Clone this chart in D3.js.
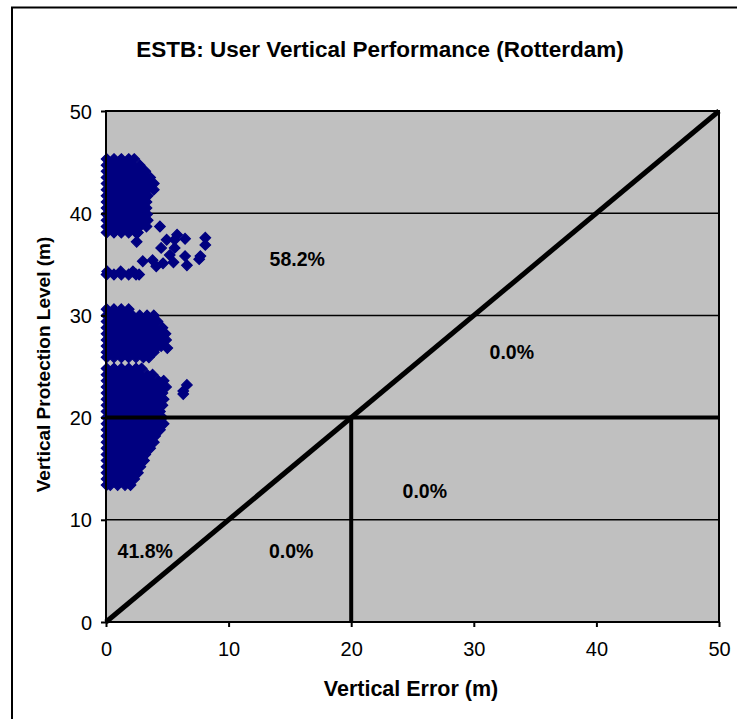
<!DOCTYPE html>
<html>
<head>
<meta charset="utf-8">
<script src="https://cdn.jsdelivr.net/npm/d3@7"></script>
<style>
  body { margin: 0; background: #fff; }
  svg text { font-family: "Liberation Sans", Arial, sans-serif; fill: #000; }
</style>
</head>
<body>
<div id="chart"></div>
<script>
// VE / VPL samples, one row per VPL level: [vpl, ve, ve, ...]
var upperRows = [
  [45.3, 0.05, 0.65, 1.25, 1.85, 2.3],
  [44.7, 0.05, 0.35, 0.95, 1.55, 2.15, 2.75],
  [44.1, 0.05, 0.65, 1.25, 1.85, 2.45, 3.05, 3.2],
  [43.5, 0.05, 0.35, 0.95, 1.55, 2.15, 2.75, 3.35, 3.6],
  [42.9, 0.05, 0.65, 1.25, 1.85, 2.45, 3.05, 3.65, 3.9],
  [42.3, 0.05, 0.35, 0.95, 1.55, 2.15, 2.75, 3.35, 3.9],
  [41.7, 0.05, 0.65, 1.25, 1.85, 2.45, 3.05, 3.4],
  [41.1, 0.05, 0.35, 0.95, 1.55, 2.15, 2.75, 3.3],
  [40.5, 0.05, 0.65, 1.25, 1.85, 2.45, 3.05, 3.3],
  [39.9, 0.05, 0.35, 0.95, 1.55, 2.15, 2.75, 3.35],
  [39.3, 0.05, 0.65, 1.25, 1.85, 2.45, 3.05, 3.4],
  [38.7, 0.05, 0.35, 0.95, 1.55, 2.15, 2.75, 3.3, 4.4],
  [38.1, 0.05, 0.65, 1.25, 1.85, 2.45, 2.6]
];

var scatterPts = [
  [2.5, 37.2], [4.95, 37.4], [5.6, 37.4], [5.8, 37.9], [6.45, 37.5], [8.1, 37.6],
  [8.1, 36.9], [4.5, 36.6], [5.6, 36.6], [5.2, 35.9], [6.45, 35.8], [7.7, 35.8],
  [7.6, 35.5], [3.0, 35.3], [3.8, 35.4], [4.65, 35.1], [5.5, 35.2], [6.6, 34.9],
  [4.1, 34.8], [5.0, 26.8], [6.6, 23.2], [6.3, 22.6], [6.3, 22.3]
];

var midRows = [
  [34.3, 0.1, 1.2, 2.2],
  [34.0, 0.05, 0.65, 1.25, 1.85, 2.45, 2.7]
];

var lowerRows = [
  [30.6, 0.05, 0.65, 1.25, 1.85],
  [30.0, 0.05, 0.35, 0.95, 1.55, 2.15, 2.75, 3.35, 3.9],
  [29.4, 0.05, 0.65, 1.25, 1.85, 2.45, 3.05, 3.65, 4.2],
  [28.8, 0.05, 0.35, 0.95, 1.55, 2.15, 2.75, 3.35, 3.95, 4.6],
  [28.2, 0.05, 0.65, 1.25, 1.85, 2.45, 3.05, 3.65, 4.25, 4.85],
  [27.6, 0.05, 0.35, 0.95, 1.55, 2.15, 2.75, 3.35, 3.95, 4.55, 4.9],
  [27.0, 0.05, 0.65, 1.25, 1.85, 2.45, 3.05, 3.65, 4.25, 4.5],
  [26.4, 0.05, 0.35, 0.95, 1.55, 2.15, 2.75, 3.35, 3.9],
  [25.9, 0.05, 0.65, 1.25, 1.85, 2.45, 3.05, 3.5],
  [24.8, 0.05, 0.65, 1.25, 1.85, 2.45, 2.9],
  [24.2, 0.05, 0.35, 0.95, 1.55, 2.15, 2.75, 3.35, 3.8],
  [23.6, 0.05, 0.65, 1.25, 1.85, 2.45, 3.05, 3.65, 4.25, 4.7],
  [23.0, 0.05, 0.35, 0.95, 1.55, 2.15, 2.75, 3.35, 3.95, 4.55, 4.9],
  [22.4, 0.05, 0.65, 1.25, 1.85, 2.45, 3.05, 3.65, 4.25, 4.6],
  [21.8, 0.05, 0.35, 0.95, 1.55, 2.15, 2.75, 3.35, 3.95, 4.55, 4.7],
  [21.2, 0.05, 0.65, 1.25, 1.85, 2.45, 3.05, 3.65, 4.25, 4.6],
  [20.6, 0.05, 0.35, 0.95, 1.55, 2.15, 2.75, 3.35, 3.95, 4.4],
  [20.0, 0.05, 0.65, 1.25, 1.85, 2.45, 3.05, 3.65, 4.25, 4.6],
  [19.4, 0.05, 0.35, 0.95, 1.55, 2.15, 2.75, 3.35, 3.95, 4.55, 4.7],
  [18.8, 0.05, 0.65, 1.25, 1.85, 2.45, 3.05, 3.65, 4.25, 4.4],
  [18.2, 0.05, 0.35, 0.95, 1.55, 2.15, 2.75, 3.35, 3.95, 4.0],
  [17.6, 0.05, 0.65, 1.25, 1.85, 2.45, 3.05, 3.65, 3.9],
  [17.0, 0.05, 0.35, 0.95, 1.55, 2.15, 2.75, 3.35, 3.6],
  [16.4, 0.05, 0.65, 1.25, 1.85, 2.45, 3.05, 3.2],
  [15.8, 0.05, 0.35, 0.95, 1.55, 2.15, 2.75, 3.1],
  [15.2, 0.05, 0.65, 1.25, 1.85, 2.45, 2.8],
  [14.6, 0.05, 0.35, 0.95, 1.55, 2.15, 2.6],
  [14.0, 0.05, 0.65, 1.25, 1.85, 2.3],
  [13.4, 0.05, 0.35, 0.95, 1.55, 2.0]
];

var tickVals = [0, 10, 20, 30, 40, 50];
var gridVals = [10, 30, 40];
var alarmLimit = 20;

// region percentages [ve, vpl, label]
var regionLabels = [
  [15.6, 34.8, "58.2%"],
  [33.1, 25.7, "0.0%"],
  [26.0, 12.1, "0.0%"],
  [3.2, 6.3, "41.8%"],
  [15.1, 6.3, "0.0%"]
];

var titleText = "ESTB: User Vertical Performance (Rotterdam)";
var xTitle = "Vertical Error (m)";
var yTitle = "Vertical Protection Level (m)";

// flatten the rows into points
var points = [];
upperRows.concat(midRows, lowerRows).forEach(function(row) {
  for (var i = 1; i < row.length; i++) points.push([row[i], row[0]]);
});
points = points.concat(scatterPts);

var width = 737, height = 719;
var margin = {top: 111, right: 18, bottom: 97, left: 106};
var plotW = width - margin.left - margin.right;
var plotH = height - margin.top - margin.bottom;

var svg = d3.select("#chart").append("svg")
  .attr("width", width)
  .attr("height", height);

// outer chart border
svg.append("rect")
  .attr("x", 12).attr("y", 7.5)
  .attr("width", 740).attr("height", 730)
  .attr("fill", "none").attr("stroke", "#000").attr("stroke-width", 2);

var g = svg.append("g")
  .attr("transform", `translate(${margin.left}, ${margin.top})`);

var x = d3.scaleLinear().domain([0, 50]).range([0, plotW]);
var y = d3.scaleLinear().domain([0, 50]).range([plotH, 0]);

g.append("rect")
  .attr("width", plotW).attr("height", plotH)
  .attr("fill", "#c0c0c0");

g.selectAll(".grid")
  .data(gridVals)
  .enter().append("line")
  .attr("class", "grid")
  .attr("x1", 0).attr("x2", plotW)
  .attr("y1", d => y(d)).attr("y2", d => y(d))
  .attr("stroke", "#000").attr("stroke-width", 1.5);

// scatter markers (diamonds)
g.selectAll(".pt")
  .data(points)
  .enter().append("path")
  .attr("class", "pt")
  .attr("d", "M0,-5.3L5.3,0L0,5.3L-5.3,0Z")
  .attr("transform", d => `translate(${x(d[0])},${y(d[1])})`)
  .attr("fill", "#000080")
  .attr("stroke", "#000080")
  .attr("stroke-width", 1.2);

// alarm limit lines and diagonal
g.append("line")
  .attr("x1", x(0)).attr("y1", y(alarmLimit))
  .attr("x2", x(50)).attr("y2", y(alarmLimit))
  .attr("stroke", "#000").attr("stroke-width", 4);

g.append("line")
  .attr("x1", x(alarmLimit)).attr("y1", y(0))
  .attr("x2", x(alarmLimit)).attr("y2", y(alarmLimit))
  .attr("stroke", "#000").attr("stroke-width", 4);

g.append("line")
  .attr("x1", x(0)).attr("y1", y(0))
  .attr("x2", x(50)).attr("y2", y(50))
  .attr("stroke", "#000").attr("stroke-width", 5);

g.append("rect")
  .attr("width", plotW).attr("height", plotH)
  .attr("fill", "none").attr("stroke", "#000").attr("stroke-width", 2);

// axes
var xAxis = g.append("g")
  .attr("transform", `translate(0, ${plotH})`)
  .call(d3.axisBottom(x).tickValues(tickVals).tickSize(5).tickPadding(15));
var yAxis = g.append("g")
  .call(d3.axisLeft(y).tickValues(tickVals).tickSize(5).tickPadding(9));

[xAxis, yAxis].forEach(function(a) {
  a.select(".domain").remove();
  a.selectAll("line").attr("stroke", "#000").attr("stroke-width", 2);
  a.selectAll("text")
    .style("font-family", "Liberation Sans, Arial, sans-serif")
    .style("font-size", "20px")
    .attr("fill", "#000");
});
yAxis.selectAll("text").attr("dy", "0.35em");

// region labels
g.selectAll(".pct")
  .data(regionLabels)
  .enter().append("text")
  .attr("class", "pct")
  .attr("x", d => x(d[0]))
  .attr("y", d => y(d[1]))
  .attr("text-anchor", "middle")
  .style("font-size", "19.5px")
  .style("font-weight", "bold")
  .text(d => d[2]);

// title
svg.append("text")
  .attr("x", 380).attr("y", 57)
  .attr("text-anchor", "middle")
  .style("font-size", "22.5px")
  .style("font-weight", "bold")
  .text(titleText);

svg.append("text")
  .attr("x", 411).attr("y", 696)
  .attr("text-anchor", "middle")
  .style("font-size", "21.5px")
  .style("font-weight", "bold")
  .text(xTitle);

svg.append("text")
  .attr("transform", `translate(50, ${margin.top + plotH / 2 - 2}) rotate(-90)`)
  .attr("text-anchor", "middle")
  .style("font-size", "19px")
  .style("font-weight", "bold")
  .text(yTitle);
</script>
</body>
</html>
